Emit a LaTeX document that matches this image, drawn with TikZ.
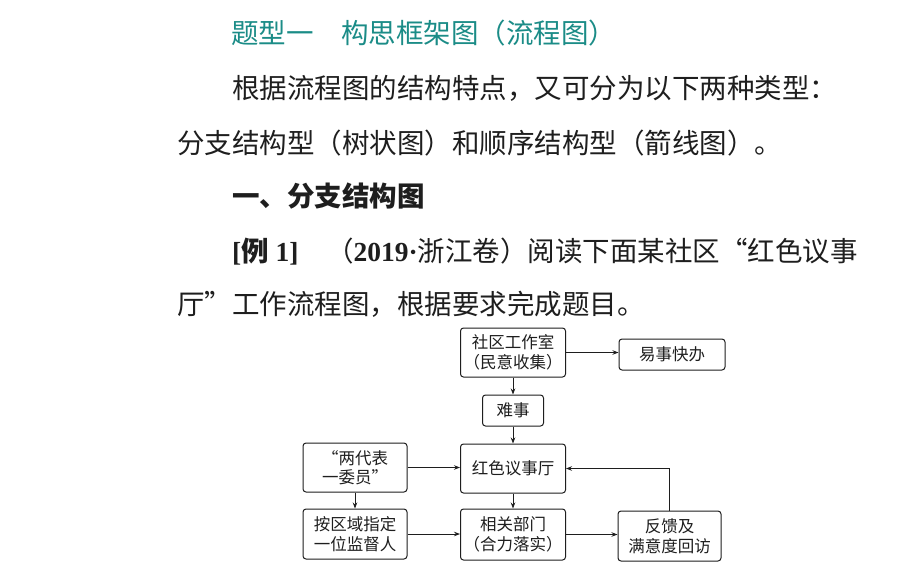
\documentclass[tikz,border=0pt]{standalone}
\usepackage{fontspec}
\setmainfont{Noto Sans CJK SC}
\newfontfamily\lat{Liberation Serif}
\usetikzlibrary{arrows.meta}
\definecolor{tealtitle}{HTML}{1B8C87}
\definecolor{ink}{HTML}{1E1E1E}
\begin{document}
\begin{tikzpicture}[x=1pt,y=-1pt,
  body/.style={anchor=base west, inner sep=0pt, font=\fontsize{27.5}{30}\selectfont, text=ink},
  box/.style={draw=ink, line width=1pt, rounded corners=3pt, inner sep=0pt, align=center,
    font=\fontsize{16.5}{19.5}\selectfont, text=ink},
  arr/.style={draw=ink, line width=0.8pt, -{Stealth[length=6pt,width=4.5pt]}}]
\useasboundingbox (0,0) rectangle (920,576);
\fill[white] (0,0) rectangle (920,576);
% text lines
\node[body, text=tealtitle] (t0) at (231,43) {题型一　构思框架图（流程图）};
\node[body] (t1) at (232,98) {根据流程图的结构特点，又可分为以下两种类型：};
\node[body] (t2) at (177,153) {分支结构型（树状图）和顺序结构型（箭线图）。};
\node[body, font=\fontsize{27.5}{30}\selectfont\bfseries] (t3) at (232,206) {一、分支结构图};
\node[body, font=\fontsize{27.5}{30}\selectfont\bfseries] (t4a) at (232,261) {{\lat\bfseries [}例{\lat\bfseries\ 1]}};
\node[body, anchor=base east] (t4b) at (858,261) {（{\lat\bfseries 2019·}浙江卷）阅读下面某社区“红色议事};
\node[body] (t5) at (177,314) {厅”工作流程图，根据要求完成题目。};
% boxes
\node[box, minimum width=105, minimum height=49] (s1) at (513,352.5) {社区工作室\\（民意收集）};
\node[box, minimum width=106, minimum height=31] (easy) at (672,354.5) {易事快办};
\node[box, minimum width=61, minimum height=31] (hard) at (513,410.5) {难事};
\node[box, minimum width=105, minimum height=49] (red) at (513,468.5) {红色议事厅};
\node[box, minimum width=104, minimum height=49] (rep) at (355,467.5) {“两代表\\一委员”};
\node[box, minimum width=104, minimum height=50] (sup) at (355,534) {按区域指定\\一位监督人};
\node[box, minimum width=105, minimum height=51] (dept) at (513,534.5) {相关部门\\（合力落实）};
\node[box, minimum width=103, minimum height=50] (fb) at (669.5,536) {反馈及\\满意度回访};
% connectors
\draw[arr] (s1.east) -- (s1.east -| easy.west);
\draw[arr] (s1.south) -- (hard.north);
\draw[arr] (hard.south) -- (red.north);
\draw[arr] (rep.east) -- (rep.east -| red.west);
\draw[arr] (rep.south) -- (sup.north);
\draw[arr] (red.south) -- (dept.north);
\draw[arr] (sup.east) -- (sup.east -| dept.west);
\draw[arr] (dept.east) -- (dept.east -| fb.west);
\draw[arr] (fb.north) |- (red.east);
\end{tikzpicture}
\end{document}
